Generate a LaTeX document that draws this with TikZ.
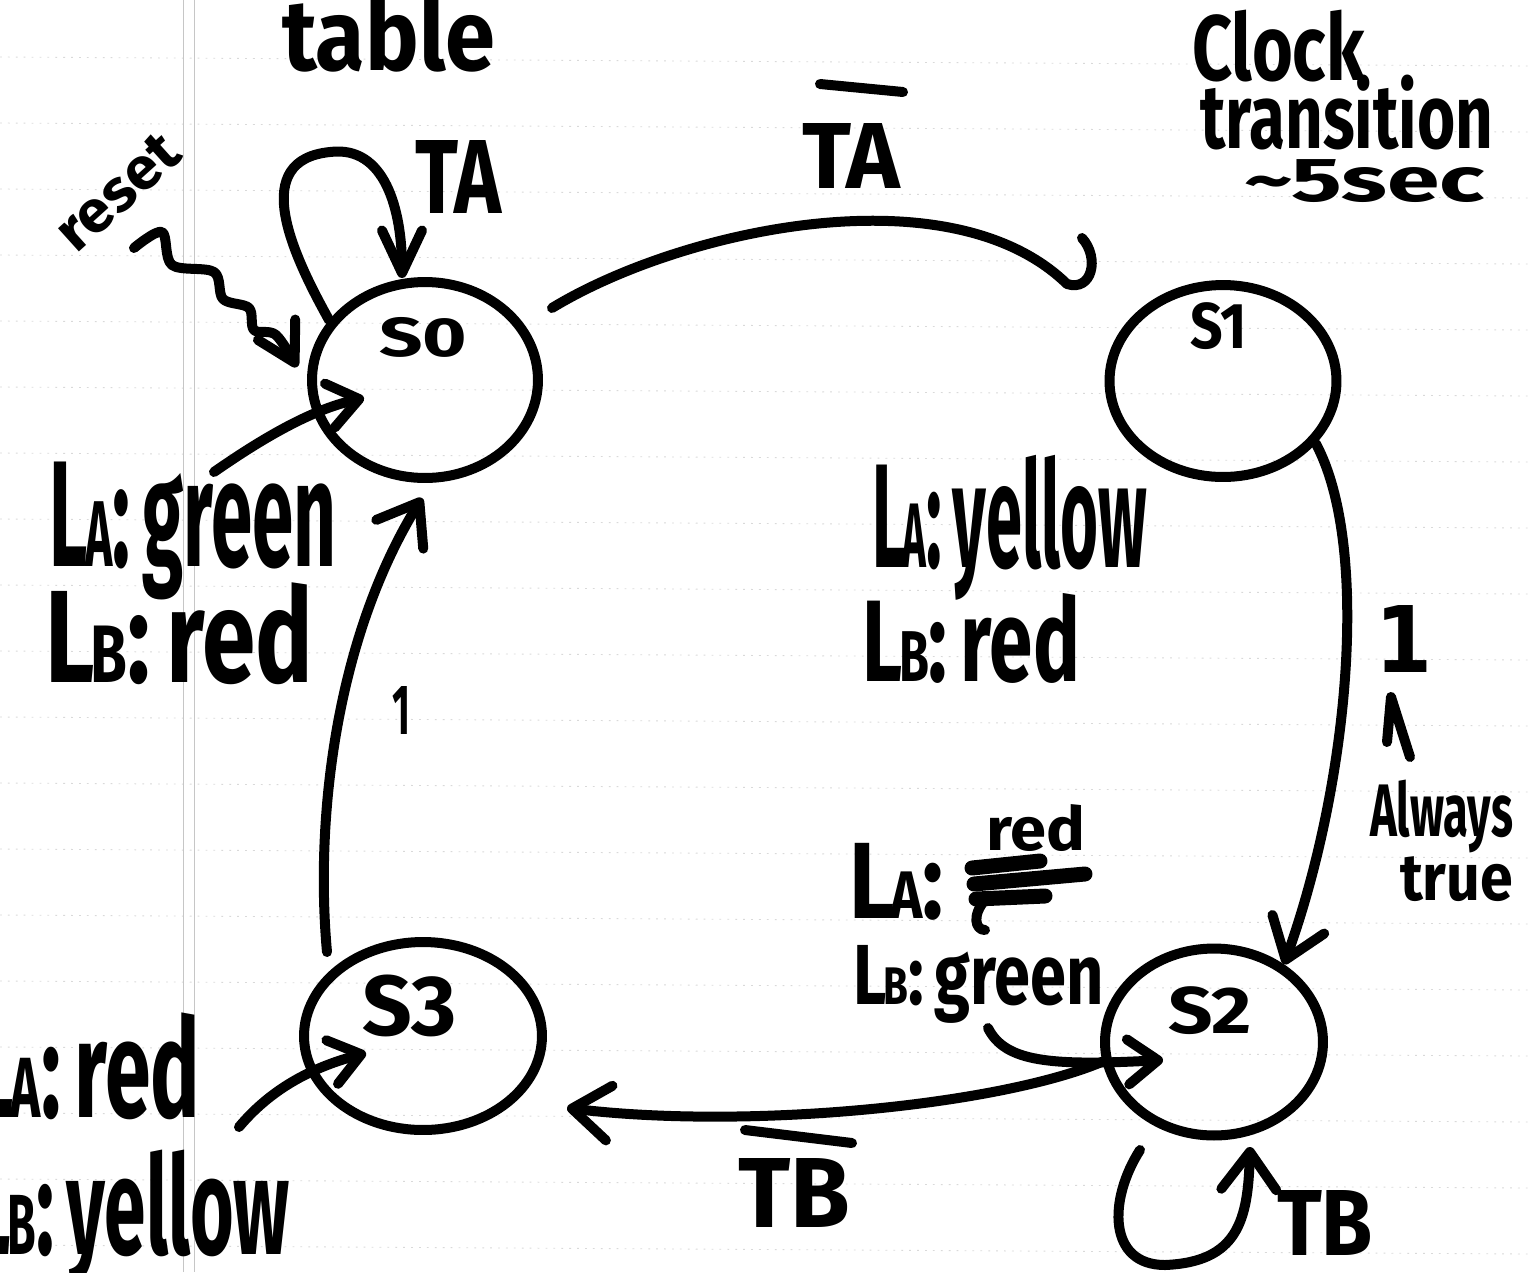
\documentclass[tikz,border=0pt]{standalone}
\usepackage{fontspec}
\newfontfamily\hand{Fira Sans}
\newfontfamily\digit{DejaVu Sans}
\usetikzlibrary{arrows.meta,shapes.geometric,calc}

% handwritten word fitted into a box: name, x, y (top left), width, height (px), text
\newcommand\hw[6]{%
  \node[txt, anchor=north west] (#1) at (#2,#3)
    {\resizebox*{\dimexpr 0.02cm*#4\relax}{\dimexpr 0.02cm*#5\relax}{\hand\bfseries #6}};}
\newcommand\sub[1]{\kern-0.04em\scalebox{0.62}{#1}}

\tikzset{
  txt/.style={inner sep=0pt, outer sep=0pt},
  st/.style={ellipse, draw, line width=0.2cm, inner sep=0pt},
  conn/.style={line width=0.2cm, line cap=round, line join=round},
  arr/.style={conn, -{Straight Barb[length=0.75cm, width=1.1cm, round]}},
  sarr/.style={conn, -{Straight Barb[length=0.6cm, width=0.9cm, round]}},
  rule/.style={gray!30, line width=0.5pt, dash pattern=on 1pt off 3.5pt},
  margin/.style={gray!45, line width=0.5pt}
}

\begin{document}
\begin{tikzpicture}[x=0.02cm, y=-0.02cm]
  % page
  \fill[white] (0,0) rectangle (1528,1272);
  \useasboundingbox (0,0) rectangle (1528,1272);

  % ruled notebook paper
  \foreach \k in {-6,...,12}
    \draw[rule] (0,{453+66*\k}) -- (1528,{453+66*\k+9});
  \draw[margin] (183,0) -- (183,1272);
  \draw[margin] (194,0) -- (194,1272);

  % states
  \node[st, minimum width=4.52cm, minimum height=3.92cm] (s0) at (425,380) {};
  \node[st, minimum width=4.54cm, minimum height=3.84cm] (s1) at (1223,381) {};
  \node[st, minimum width=4.36cm, minimum height=3.74cm] (s2) at (1214,1042) {};
  \node[st, minimum width=4.76cm, minimum height=3.76cm] (s3) at (423,1036) {};

  \hw{s0name}{379}{317}{88}{40}{S0}
  \hw{s1name}{1190}{303}{57}{47}{S1}
  \hw{s2name}{1168}{987}{84}{48}{S2}
  \hw{s3name}{362}{975}{95}{62}{S3}

  % heading and notes
  \hw{title}{282}{-6}{213}{78}{table}
  \hw{clock}{1192}{10}{173}{72}{Clock}
  \hw{trans}{1200}{75}{293}{75}{transition}
  \hw{period}{1244}{160}{241}{43}{\textasciitilde 5sec}

  % outputs of each state
  \hw{outA0}{50}{462}{287}{138}{L\sub{A}:\,green}
  \hw{outB0}{45}{583}{268}{102}{L\sub{B}:\,red}
  \hw{outA1}{872}{455}{275}{145}{L\sub{A}:\,yellow}
  \hw{outB1}{862}{593}{218}{90}{L\sub{B}:\,red}
  \hw{outA2fix}{986}{805}{99}{47}{red}
  \hw{outA2}{849}{843}{95}{77}{L\sub{A}:}
  \hw{outB2}{853}{945}{251}{78}{L\sub{B}:\,green}
  \hw{outA3}{-28}{1013}{228}{107}{L\sub{A}:\,red}
  \hw{outB3}{-28}{1150}{318}{135}{L\sub{B}:\,yellow}

  % crossed-out word under "red"
  \draw[line width=0.3cm, line cap=round] (972,868) -- (1040,861);
  \draw[line width=0.3cm, line cap=round] (974,884) -- (1085,874);
  \draw[line width=0.3cm, line cap=round] (976,899) -- (1045,896);
  \draw[conn] (985,900) .. controls (972,915) and (975,930) .. (985,930);

  % reset
  \node[txt, rotate=42] (resetlbl) at (118,192)
    {\resizebox*{2.9cm}{0.8cm}{\hand\bfseries reset}};
  \coordinate (rs) at (134,248);
  \coordinate (re) at (297,367);
  \draw[conn, -{Straight Barb[length=0.75cm, width=0.85cm, round]}]
    plot[smooth, tension=0.55] coordinates
    {(rs) (162,232) (172,265) (214,272) (223,299) (249,308) (254,330) (276,335) (re)};

  % self loop on S0
  \coordinate (l0e) at (402,278);
  \draw[conn, -{Straight Barb[length=0.85cm, width=0.8cm, round]}]
    (s0.148) .. controls (290,250) and (250,160) .. (330,152)
    .. controls (385,145) and (402,210) .. (l0e);
  \hw{tA0}{415}{140}{86}{73}{TA}

  % S0 -> S1 with hooked head
  \coordinate (a01s) at (552,308);
  \coordinate (a01e) at (1067,284);
  \draw[conn] (a01s) .. controls (680,230) and (950,170) .. (a01e)
    .. controls (1092,292) and (1100,258) .. (1082,238);
  \draw[conn] (820,84) -- (903,92);
  \hw{tA1}{802}{123}{98}{65}{TA}

  % S1 -> S2
  \draw[arr] (s1.-34) .. controls (1370,545) and (1350,780) .. (s2.48);
  \node[txt, anchor=north west] (one12) at (1375,605)
    {\resizebox*{1.14cm}{1.34cm}{\digit\bfseries 1}};
  \coordinate (up1) at (1387,742);
  \coordinate (up2) at (1391,697);
  \coordinate (up3) at (1410,757);
  \draw[conn] (up1) -- (up2) -- (up3);
  \hw{always}{1370}{780}{143}{73}{Always}
  \hw{true}{1400}{857}{113}{45}{true}

  % S2 -> S3
  \coordinate (a23e) at (567,1108);
  \draw[arr] (s2.190) .. controls (1000,1105) and (750,1130) .. (a23e);
  \draw[conn] (745,1130) -- (852,1143);
  \hw{tB1}{738}{1158}{112}{69}{TB}

  % self loop on S2
  \coordinate (l2s) at (1140,1150);
  \coordinate (l2e) at (1250,1147);
  \draw[arr] (l2s) .. controls (1108,1200) and (1108,1265) .. (1165,1265)
    .. controls (1238,1262) and (1248,1220) .. (l2e);
  \hw{tB2}{1277}{1190}{96}{65}{TB}

  % S3 -> S0
  \coordinate (a30s) at (327,952);
  \coordinate (a30e) at (422,498);
  \draw[arr] (a30s) .. controls (315,820) and (335,640) .. (a30e);
  \hw{one30}{392}{686}{18}{48}{1}

  % output markers pointing into the states
  \coordinate (o0s) at (214,472);
  \coordinate (o0e) at (364,398);
  \draw[sarr] (o0s) .. controls (260,440) and (310,410) .. (o0e);
  \coordinate (o2s) at (988,1028);
  \coordinate (o2e) at (1163,1060);
  \draw[sarr] (o2s) .. controls (1005,1062) and (1050,1066) .. (o2e);
  \coordinate (o3s) at (239,1127);
  \coordinate (o3e) at (366,1053);
  \draw[sarr] (o3s) .. controls (270,1090) and (310,1068) .. (o3e);
\end{tikzpicture}
\end{document}
